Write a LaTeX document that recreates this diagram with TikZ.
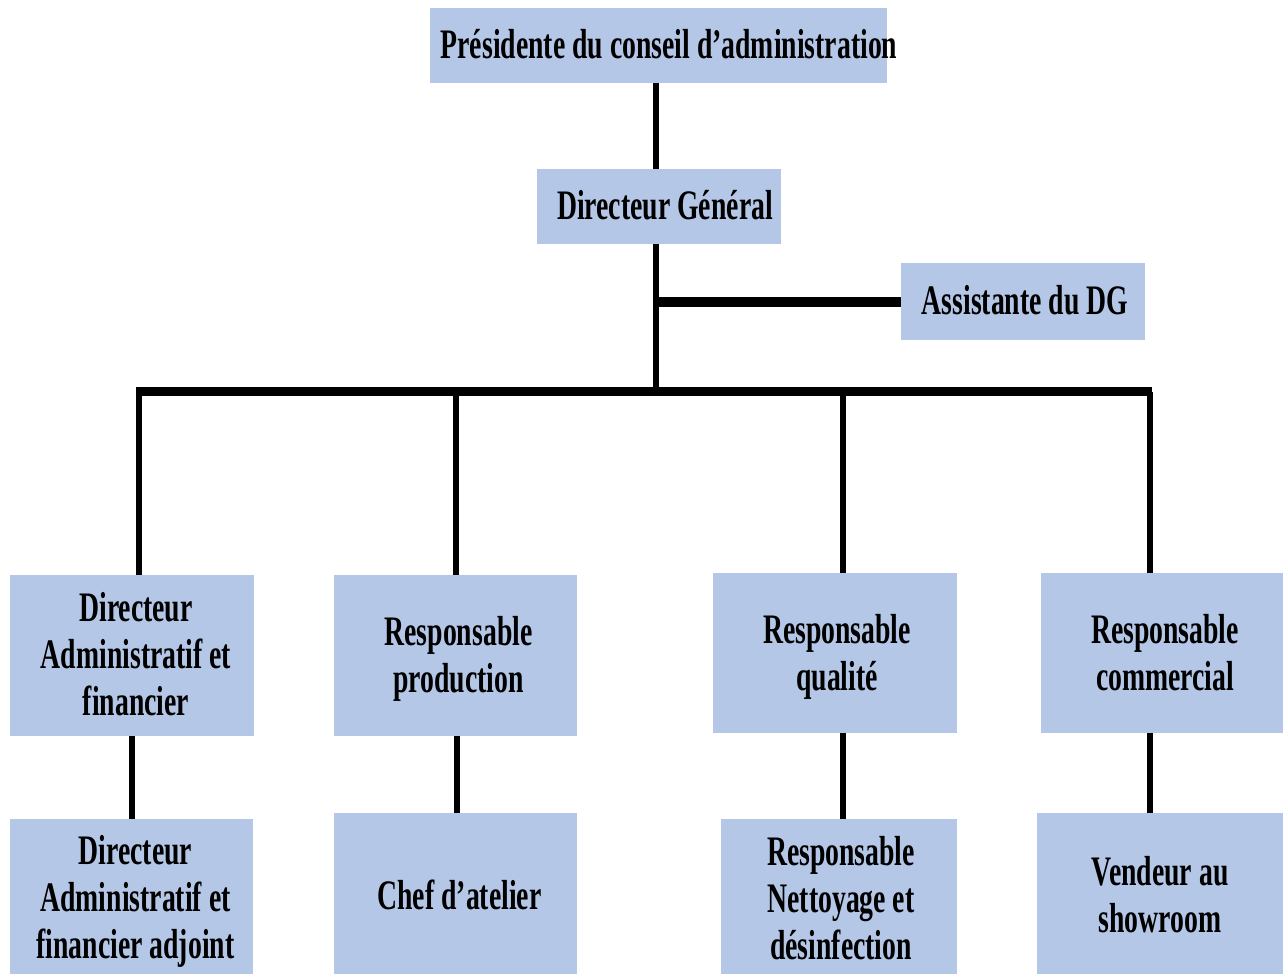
\documentclass[tikz,border=0pt]{standalone}
\usepackage{fontspec}
\newfontfamily\orgfont{Liberation Serif Bold}[FakeStretch=0.66]
\definecolor{boxblue}{RGB}{180,199,231}
% centred block of lines, moved right by #1/2 and down by #2
\newcommand\moved[3]{\makebox[0pt]{\hspace{#1}\raisebox{-#2}[\height][\depth]{%
  \begin{tabular}{@{}c@{}}#3\end{tabular}}}}
\tikzset{
  unit/.style={fill=boxblue, draw=none, inner sep=0pt, outer sep=0pt,
    anchor=north west, align=center,
    font=\orgfont\fontsize{42}{47}\selectfont},
  link/.style={draw=black, line width=6pt},
  busline/.style={draw=black, line width=9.5pt},
  sideline/.style={draw=black, line width=10pt}
}
\begin{document}
\begin{tikzpicture}[x=1pt, y=-1pt]
\useasboundingbox (0,0) rectangle (1283,974);

% top management
\node[unit, minimum width=457pt, minimum height=75pt] (pca) at (430,8)
  {\moved{21pt}{4pt}{Présidente du conseil d’administration}};
\node[unit, minimum width=244pt, minimum height=75pt] (dg) at (537,169)
  {\moved{12pt}{4pt}{Directeur Général}};
\node[unit, minimum width=244pt, minimum height=77pt] (asst) at (901,263)
  {\moved{4pt}{4pt}{Assistante du DG}};

% department heads
\node[unit, minimum width=244pt, minimum height=161pt] (daf) at (10,575)
  {\moved{8pt}{4pt}{Directeur\\Administratif et\\financier}};
\node[unit, minimum width=243pt, minimum height=161pt] (prod) at (334,575)
  {\moved{6pt}{4pt}{Responsable\\production}};
\node[unit, minimum width=244pt, minimum height=160pt] (qual) at (713,573)
  {\moved{4pt}{5pt}{Responsable\\qualité}};
\node[unit, minimum width=242pt, minimum height=160pt] (comm) at (1041,573)
  {\moved{6pt}{5pt}{Responsable\\commercial}};

% second level
\node[unit, minimum width=243pt, minimum height=155pt] (dafa) at (10,819)
  {\moved{8pt}{6pt}{Directeur\\Administratif et\\financier adjoint}};
\node[unit, minimum width=243pt, minimum height=161pt] (chef) at (334,813)
  {\moved{8pt}{7pt}{Chef d’atelier}};
\node[unit, minimum width=236pt, minimum height=155pt] (nett) at (721,819)
  {\moved{4pt}{7pt}{Responsable\\Nettoyage et\\désinfection}};
\node[unit, minimum width=246pt, minimum height=161pt] (vend) at (1037,813)
  {\moved{0pt}{6pt}{Vendeur au\\showroom}};

% reference points on the spine and the bus
\coordinate (spine) at (655.5,391.5);
\coordinate (busL) at (136,391.5);
\coordinate (busR) at (1152,391.5);
\coordinate (d1) at (139,391.5);
\coordinate (d2) at (455.5,391.5);
\coordinate (d3) at (843,391.5);
\coordinate (d4) at (1150,391.5);
\coordinate (e2) at (457,0);

% spine and side branch
\draw[link] (pca.south -| spine) -- (dg.north -| spine);
\draw[link] (dg.south -| spine) -- (spine);
\draw[sideline] (spine |- asst.west) -- (asst.west);

% bus and drops
\draw[busline] (busL) -- (busR);
\draw[link] (d1) -- (daf.north -| d1);
\draw[link] (d2) -- (prod.north -| d2);
\draw[link] (d3) -- (qual.north -| d3);
\draw[link] (d4) -- (comm.north -| d4);

% second-level links
\draw[link] (daf.south) -- (dafa.north -| daf.south);
\draw[link] (prod.south -| e2) -- (chef.north -| e2);
\draw[link] (qual.south -| d3) -- (nett.north -| d3);
\draw[link] (comm.south -| d4) -- (vend.north -| d4);
\end{tikzpicture}
\end{document}
